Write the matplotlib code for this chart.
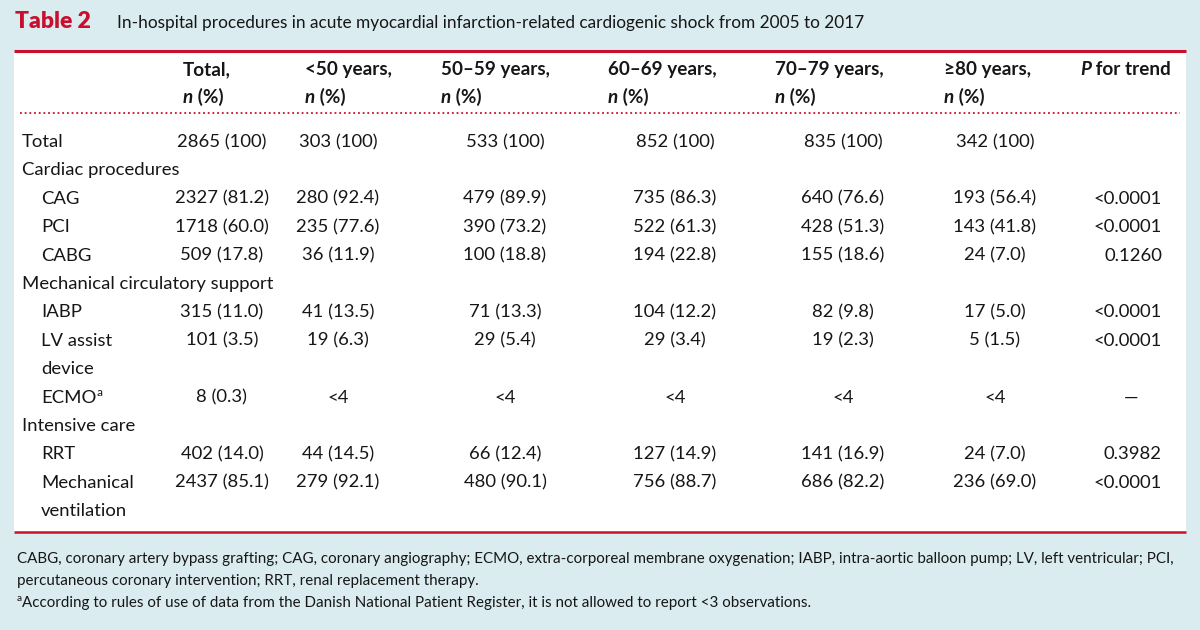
import matplotlib
matplotlib.use("Agg")
import matplotlib.pyplot as plt
from matplotlib.patches import Rectangle

# ---------------- data ----------------
title_tag = "Table 2"
title_text = "In-hospital procedures in acute myocardial infarction-related cardiogenic shock from 2005 to 2017"

col_headers = ["Total,", "<50 years,", "50\u201359 years,", "60\u201369 years,", "70\u201379 years,", "\u226580 years,"]
p_header = "P"
p_header_rest = " for trend"

row_labels = ["Total", "Cardiac procedures", "CAG", "PCI", "CABG",
              "Mechanical circulatory support", "IABP", "LV assist\ndevice",
              "ECMO", "Intensive care", "RRT", "Mechanical\nventilation"]
row_indent = [0, 0, 1, 1, 1, 0, 1, 1, 1, 0, 1, 1]
row_sup = ["", "", "", "", "", "", "", "", "a", "", "", ""]

col_total = ["2865 (100)", "", "2327 (81.2)", "1718 (60.0)", "509 (17.8)", "",
             "315 (11.0)", "101 (3.5)", "8 (0.3)", "", "402 (14.0)", "2437 (85.1)"]
col_lt50 = ["303 (100)", "", "280 (92.4)", "235 (77.6)", "36 (11.9)", "",
            "41 (13.5)", "19 (6.3)", "<4", "", "44 (14.5)", "279 (92.1)"]
col_50_59 = ["533 (100)", "", "479 (89.9)", "390 (73.2)", "100 (18.8)", "",
             "71 (13.3)", "29 (5.4)", "<4", "", "66 (12.4)", "480 (90.1)"]
col_60_69 = ["852 (100)", "", "735 (86.3)", "522 (61.3)", "194 (22.8)", "",
             "104 (12.2)", "29 (3.4)", "<4", "", "127 (14.9)", "756 (88.7)"]
col_70_79 = ["835 (100)", "", "640 (76.6)", "428 (51.3)", "155 (18.6)", "",
             "82 (9.8)", "19 (2.3)", "<4", "", "141 (16.9)", "686 (82.2)"]
col_ge80 = ["342 (100)", "", "193 (56.4)", "143 (41.8)", "24 (7.0)", "",
            "17 (5.0)", "5 (1.5)", "<4", "", "24 (7.0)", "236 (69.0)"]
p_trend = ["", "", "<0.0001", "<0.0001", "0.1260", "", "<0.0001", "<0.0001",
           "\u2014", "", "0.3982", "<0.0001"]

footnote_lines = [
    "CABG, coronary artery bypass grafting; CAG, coronary angiography; ECMO, extra-corporeal membrane oxygenation; IABP, intra-aortic balloon pump; LV, left ventricular; PCI,",
    "percutaneous coronary intervention; RRT, renal replacement therapy.",
]
footnote_a = "According to rules of use of data from the Danish National Patient Register, it is not allowed to report <3 observations."

# ---------------- style ----------------
FONT = "Lato"
RED = "#C8102E"
BG = "#DAECF0"
INK = "#161616"
BODY = 13.3
HEAD = 13.6
TITLE = 12.4
FOOT = 10.9

fig = plt.figure(figsize=(12, 6.3), dpi=100)
fig.patch.set_facecolor(BG)
ax = fig.add_axes([0, 0, 1, 1])
ax.set_xlim(0, 1200)
ax.set_ylim(630, 0)
ax.axis("off")
renderer = fig.canvas.get_renderer()


def rich(x, y, segments, size, color=INK):
    """segments: list of (text, weight, style); placed left to right on one baseline."""
    cur = x
    for txt, w, s in segments:
        t = ax.text(cur, y, txt, fontsize=size, fontweight=w, fontstyle=s,
                    family=FONT, color=color, ha="left", va="baseline")
        bb = t.get_window_extent(renderer)
        cur += bb.width
    return cur


# panel
ax.add_patch(Rectangle((14, 50), 1172, 482, facecolor="white", edgecolor="none", zorder=0))
ax.plot([14, 1186], [50.5, 50.5], color=RED, lw=2.2, solid_capstyle="butt")
ax.plot([14, 1186], [531.5, 531.5], color=RED, lw=1.8, solid_capstyle="butt")
ax.plot([20, 1180], [113, 113], color=RED, lw=1.3, linestyle=(0, (1, 1.6)))

# title
ax.text(15, 28, title_tag, fontsize=16.5, fontweight="heavy", family=FONT,
        color=RED, ha="left", va="baseline")
ax.text(117, 28, title_text, fontsize=TITLE, family=FONT, color=INK,
        ha="left", va="baseline")

# headers
head_x = [183, 305, 441, 608, 775, 944]
for hx, h in zip(head_x, col_headers):
    ax.text(hx, 75, h, fontsize=HEAD, fontweight="bold", family=FONT,
            color=INK, ha="left", va="baseline")
    rich(hx, 103, [("n", "bold", "italic"), (" (%)", "bold", "normal")], HEAD)
rich(1080, 75, [(p_header, "bold", "italic"), (p_header_rest, "bold", "normal")], HEAD)

# body
value_cols = [col_total, col_lt50, col_50_59, col_60_69, col_70_79, col_ge80]
value_x = [222, 338, 505, 675, 843, 995]
base0 = 147
step = 28.4
slot = 0
for i, lab in enumerate(row_labels):
    y = base0 + step * slot
    lx = 22 if row_indent[i] == 0 else 41
    lines = lab.split("\n")
    for k, ln in enumerate(lines):
        t = ax.text(lx, y + step * k, ln, fontsize=BODY, family=FONT, color=INK,
                    ha="left", va="baseline")
        if k == 0 and row_sup[i]:
            bb = t.get_window_extent(renderer)
            ax.text(lx + bb.width + 0.5, y - 7, row_sup[i], fontsize=8.5,
                    family=FONT, color=INK, ha="left", va="baseline")
    for col, cx in zip(value_cols, value_x):
        if col[i]:
            ax.text(cx, y, col[i], fontsize=BODY, family=FONT, color=INK,
                    ha="center", va="baseline")
    pv = p_trend[i]
    if pv:
        if pv == "\u2014":
            ax.text(1131, y, pv, fontsize=BODY, family=FONT, color=INK,
                    ha="center", va="baseline")
        else:
            ax.text(1162, y, pv, fontsize=BODY, family=FONT, color=INK,
                    ha="right", va="baseline")
    slot += len(lines)

# footnotes
ax.text(17, 563, footnote_lines[0], fontsize=FOOT, family=FONT, color=INK,
        ha="left", va="baseline")
ax.text(17, 585, footnote_lines[1], fontsize=FOOT, family=FONT, color=INK,
        ha="left", va="baseline")
ax.text(17, 601, "a", fontsize=7.2, family=FONT, color=INK, ha="left", va="baseline")
ax.text(22.5, 607, footnote_a, fontsize=FOOT, family=FONT, color=INK,
        ha="left", va="baseline")

fig.savefig("out.png", dpi=100, facecolor=BG)
